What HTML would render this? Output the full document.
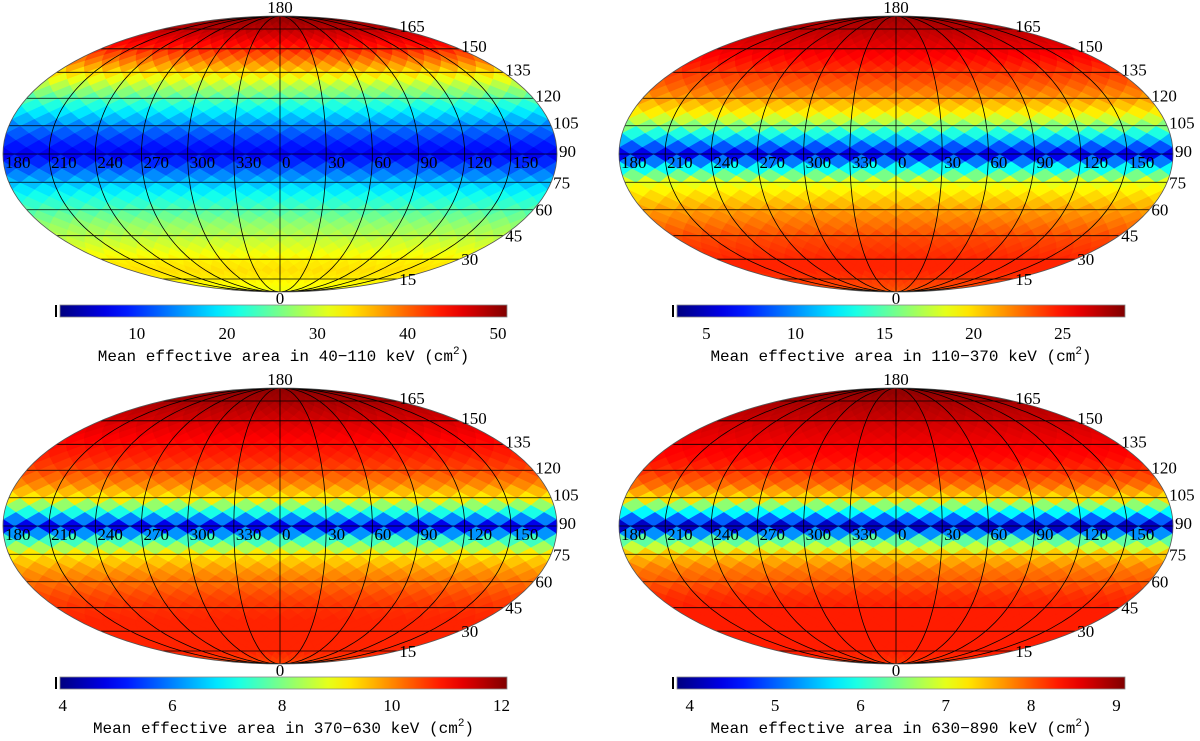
<!DOCTYPE html>
<html><head><meta charset="utf-8"><style>
html,body{margin:0;padding:0;background:#fff;}
svg{display:block;}
text{font-family:"Liberation Serif",serif;fill:#000;}
.ttl{font-family:"Liberation Mono",monospace;}
</style></head><body>
<svg id="fig" width="1200" height="741" viewBox="0 0 1200 741" xmlns="http://www.w3.org/2000/svg">
<defs id="defs"></defs>
</svg>
<script>
const colat = [0,7.5,15,22.5,30,37.5,45,52.5,60,67.5,75,82.5,90,97.5,105,112.5,120,127.5,135,142.5,150,157.5,165,172.5,180];
const vals1 = [32,32,33,34,33,31,29,27,24,21,17,12,7,10,14,19,24,29,34,39,43,46,48,49.5,50.5];
const vals2 = [23,23.5,24,24.5,24.5,24,23.5,22.5,21.5,20,18.5,13,6,11,16,19.5,21.5,23,24,25,25.8,26.5,27,27.5,28];
const vals3 = [10.6,10.6,10.8,10.8,10.8,10.8,10.7,10.5,10.2,9.8,9.2,7.5,4.8,7.2,9.2,10,10.5,10.8,11,11.2,11.4,11.6,11.8,11.9,12];
const vals4 = [8.2,8.2,8.3,8.3,8.3,8.3,8.3,8.2,8.0,7.8,7.4,6.3,4.2,5.8,7.3,7.9,8.2,8.4,8.5,8.6,8.7,8.8,8.9,9.0,9.0];
const ticks1 = [10,20,30,40,50];
const ticks2 = [5,10,15,20,25];
const ticks3 = [4,6,8,10,12];
const ticks4 = [4,5,6,7,8,9];
const ranges = [[1.5,51],[3.35,28.5],[3.95,12.1],[3.85,9.1]];
const bands = ["40\u2212110","110\u2212370","370\u2212630","630\u2212890"];
const latLabels = [0,15,30,45,60,75,90,105,120,135,150,165,180];
const lonLabels = [180,210,240,270,300,330,0,30,60,90,120,150];

const NS="http://www.w3.org/2000/svg";
const svg=document.getElementById('fig');
const defs=document.getElementById('defs');
function mk(tag,attrs,parent){const e=document.createElementNS(NS,tag);for(const k in attrs)e.setAttribute(k,attrs[k]);(parent||svg).appendChild(e);return e;}
function jet(f){f=Math.max(0,Math.min(1,f));
 const r=Math.max(0,Math.min(1,1.5-Math.abs(4*f-3)));
 const g=Math.max(0,Math.min(1,1.5-Math.abs(4*f-2)));
 const b=Math.max(0,Math.min(1,1.5-Math.abs(4*f-1)));
 return `rgb(${Math.round(r*255)},${Math.round(g*255)},${Math.round(b*255)})`;}
function interp(arr,c){if(c<=0)return arr[0];if(c>=180)return arr[arr.length-1];
 const i=Math.floor(c/7.5);const t=(c-i*7.5)/7.5;return arr[i]*(1-t)+arr[Math.min(i+1,arr.length-1)]*t;}
function mollTheta(latDeg){const phi=latDeg*Math.PI/180;if(Math.abs(Math.abs(phi)-Math.PI/2)<1e-9)return phi;
 let th=phi;for(let k=0;k<30;k++){const f=2*th+Math.sin(2*th)-Math.PI*Math.sin(phi);const d=2+2*Math.cos(2*th);if(Math.abs(d)<1e-12)break;th-=f/d;}return th;}

const stops=mk('linearGradient',{id:'jetg',x1:'0',x2:'1',y1:'0',y2:'0'},defs);
for(let i=0;i<=20;i++)mk('stop',{offset:(i/20),'stop-color':jet(i/20)},stops);

const panels=[
 {vals:vals1,ticks:ticks1,cx:280,cy:154,bar:[60,507,305]},
 {vals:vals2,ticks:ticks2,cx:896,cy:154,bar:[677,1125,305]},
 {vals:vals3,ticks:ticks3,cx:280,cy:526,bar:[60,507,677]},
 {vals:vals4,ticks:ticks4,cx:896,cy:526,bar:[677,1125,677]}];
const A=277,B=138;

panels.forEach((p,pi)=>{
 const [vmin,vmax]=ranges[pi];
 const g=mk('g',{});
 
 
 const cp=mk('clipPath',{id:'clip'+pi},defs);
 mk('ellipse',{cx:p.cx,cy:p.cy,rx:A,ry:B},cp);
 const cells=mk('g',{'clip-path':`url(#clip${pi})`},g);
 
 
 function proj(L,lat){const th=mollTheta(Math.max(-90,Math.min(90,lat)));return [p.cx+A*(L/180)*Math.cos(th),p.cy-B*Math.sin(th)];}
 for(let r=0;r<=48;r++){
  const lat=-90+r*3.75;const c=lat+90;
  const v=interp(p.vals,c);
  const col=jet((v-vmin)/(vmax-vmin));
  const off=(r%2)?7.5:0;
  for(let k=-13;k<=13;k++){
   const L=k*15+off;
   const pts=[proj(L-7.5,lat),proj(L,lat+3.75),proj(L+7.5,lat),proj(L,lat-3.75)];
   const poly=mk('polygon',{points:pts.map(q=>q[0].toFixed(1)+','+q[1].toFixed(1)).join(' '),fill:col,stroke:col,'stroke-width':'0.6'},cells);
   
   
  }
 }
 const grid=mk('g',{'clip-path':`url(#clip${pi})`,stroke:'#000','stroke-width':'0.8',fill:'none'},g);
 
 
 latLabels.forEach(cl=>{const th=mollTheta(cl-90);const y=p.cy-B*Math.sin(th);const hw=A*Math.cos(th);
  mk('line',{x1:p.cx-hw,x2:p.cx+hw,y1:y,y2:y},grid);});
 for(let L=-150;L<=150;L+=30){let d='';for(let lat=-90;lat<=90;lat+=2){const q=proj(L,lat);d+=(lat===-90?'M':'L')+q[0].toFixed(1)+','+q[1].toFixed(1);}mk('path',{d:d},grid);}
 const out=mk('ellipse',{cx:p.cx,cy:p.cy,rx:A,ry:B,fill:'none',stroke:'#555','stroke-width':'0.8'},g);
 
 
 latLabels.forEach(cl=>{
  const th=mollTheta(cl-90);const y=p.cy-B*Math.sin(th);const xr=p.cx+A*Math.cos(th);
  let t;
  if(cl===180)t=mk('text',{x:p.cx,y:p.cy-B-3,'text-anchor':'middle','font-size':17},g);
  else if(cl===0)t=mk('text',{x:p.cx,y:p.cy+B+12,'text-anchor':'middle','font-size':17},g);
  else t=mk('text',{x:xr+2,y:y+(cl>=90?3:6),'font-size':17},g);
  t.textContent=cl;
  
  
 });
 lonLabels.forEach((lv,i)=>{
  const x=p.cx-A+i*(2*A/12)+2;
  const t=mk('text',{x:x,y:p.cy+14,'font-size':17},g);
  t.textContent=lv;
  
  
 });
 const [x0,x1,by]=p.bar;
 const cb=mk('g',{},g);
 
 
 mk('rect',{x:x0,y:by,width:x1-x0,height:12,fill:'url(#jetg)',stroke:'#888','stroke-width':'0.8'},cb);
 mk('line',{x1:x0-4,x2:x0-4,y1:by,y2:by+12,stroke:'#000','stroke-width':'2'},cb);
 p.ticks.forEach(tv=>{
  const x=x0+(tv-vmin)/(vmax-vmin)*(x1-x0);
  const t=mk('text',{x:x,y:by+34,'text-anchor':'middle','font-size':17},cb);
  t.textContent=tv;
  
  
 });
 const tt=mk('text',{x:(x0+x1)/2,y:by+56,'text-anchor':'middle','font-size':16,class:'ttl'},cb);
 
 
 tt.appendChild(document.createTextNode('Mean effective area in '+bands[pi]+' keV (cm'));
 const sup=mk('tspan',{dy:-7,'font-size':11},tt);sup.textContent='2';
 const cl2=mk('tspan',{dy:7},tt);cl2.textContent=')';
});
</script>
</body></html>
